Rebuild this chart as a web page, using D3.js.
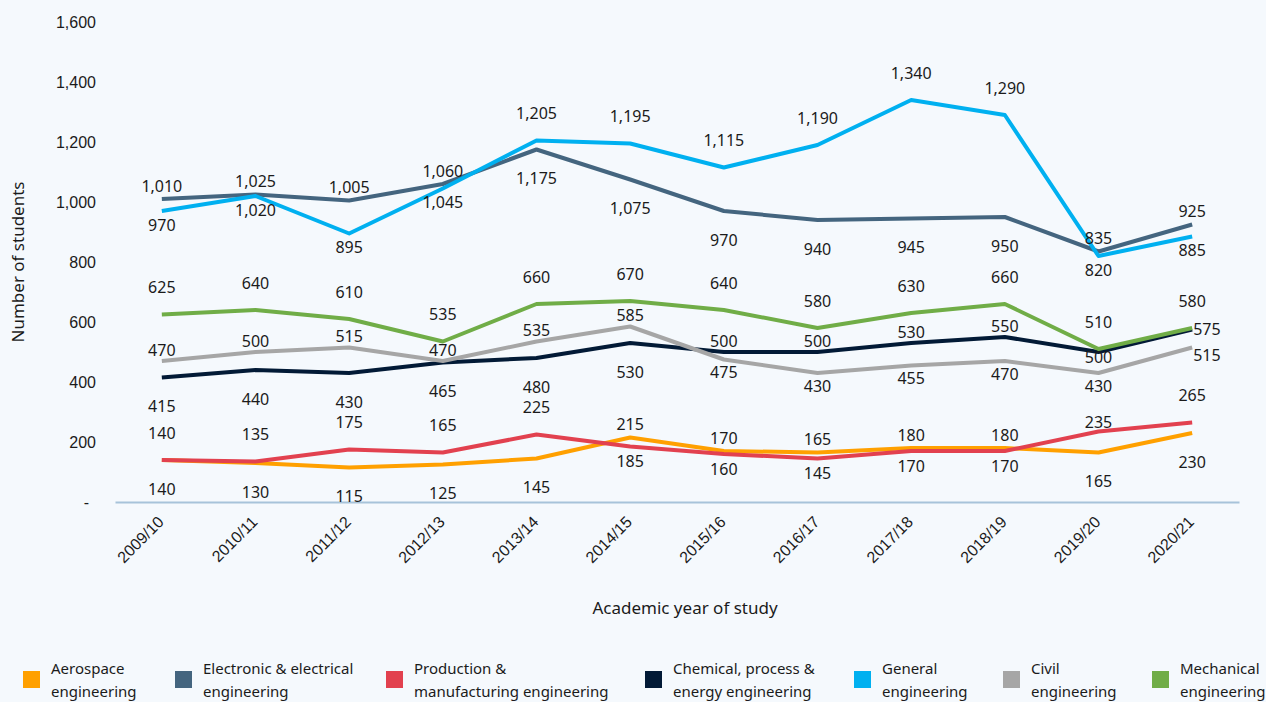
<!DOCTYPE html>
<html>
<head>
<meta charset="utf-8">
<script src="https://cdn.jsdelivr.net/npm/d3@7"></script>
<style>
  html, body { margin: 0; padding: 0; background: #f5f9fd; }
  svg { display: block; font-family: "Noto Sans", "DejaVu Sans", sans-serif; }
  text { fill: #1b1b1b; }
</style>
</head>
<body>
<svg id="chart" width="1266" height="702"></svg>
<script>
// Academic years on the x axis
const categories = ["2009/10", "2010/11", "2011/12", "2012/13", "2013/14", "2014/15",
                    "2015/16", "2016/17", "2017/18", "2018/19", "2019/20", "2020/21"];

// Number of students per subject area
const aerospace   = [140, 130, 115, 125, 145, 215, 170, 165, 180, 180, 165, 230];
const electronic  = [1010, 1025, 1005, 1060, 1175, 1075, 970, 940, 945, 950, 835, 925];
const production  = [140, 135, 175, 165, 225, 185, 160, 145, 170, 170, 235, 265];
const chemical    = [415, 440, 430, 465, 480, 530, 500, 500, 530, 550, 500, 575];
const general     = [970, 1020, 895, 1045, 1205, 1195, 1115, 1190, 1340, 1290, 820, 885];
const civil       = [470, 500, 515, 470, 535, 585, 475, 430, 455, 470, 430, 515];
const mechanical  = [625, 640, 610, 535, 660, 670, 640, 580, 630, 660, 510, 580];

// Y axis ticks
const yTicks = [0, 200, 400, 600, 800, 1000, 1200, 1400, 1600];

// Legend text (two lines each)
const seriesLabels = {
  aerospace:  ["Aerospace", "engineering"],
  electronic: ["Electronic & electrical", "engineering"],
  production: ["Production &", "manufacturing engineering"],
  chemical:   ["Chemical, process &", "energy engineering"],
  general:    ["General", "engineering"],
  civil:      ["Civil", "engineering"],
  mechanical: ["Mechanical", "engineering"]
};

const series = [
  { key: "aerospace",  values: aerospace },
  { key: "electronic", values: electronic },
  { key: "production", values: production },
  { key: "chemical",   values: chemical },
  { key: "general",    values: general },
  { key: "civil",      values: civil },
  { key: "mechanical", values: mechanical }
];

// Drawing styles
const colors = {
  aerospace: "#ffa000", electronic: "#44657f", production: "#e2414f",
  chemical: "#021a36", general: "#00b0f0", civil: "#a6a6a6", mechanical: "#70ad47"
};
// Gap between a point and its value label, above / below
const labelGap = {
  aerospace:  { above: 13, below: 29 },
  electronic: { above: 13, below: 29 },
  production: { above: 27, below: 15 },
  chemical:   { above: 11, below: 29 },
  general:    { above: 27, below: 14 },
  civil:      { above: 11, below: 13 },
  mechanical: { above: 27, below: 27 }
};
// Series that share a band: the first one's label goes above when it is not lower
const labelPairs = [["production", "aerospace"], ["electronic", "general"], ["civil", "chemical"]];
// Individual labels that are nudged off the default side to avoid collisions
const labelOverrides = {
  chemical: { 10: { side: "below", gap: 5 }, 11: { side: "right", dy: 0 } },
  civil:    { 11: { side: "right", dy: 8 } },
  production: { 10: { side: "above", gap: 9 } }
};

const svg = d3.select("#chart");
const plot = { left: 115, right: 1239, top: 22, bottom: 502 };

const x = d3.scaleBand().domain(categories).range([plot.left, plot.right]).padding(0);
const y = d3.scaleLinear().domain([0, 1600]).range([plot.bottom, plot.top]);
const cx = c => x(c) + x.bandwidth() / 2;

// Y axis (labels only)
const yAxis = svg.append("g")
  .attr("transform", `translate(${plot.left},0)`)
  .call(d3.axisLeft(y).tickValues(yTicks).tickSize(0).tickPadding(19)
    .tickFormat(d => d === 0 ? "-" : d3.format(",")(d)));
yAxis.select(".domain").remove();
yAxis.selectAll("text")
  .attr("font-size", 16).attr("fill", "#1b1b1b")
  .attr("dx", d => d === 0 ? -7 : 0);

// X axis with rotated year labels
const xAxis = svg.append("g")
  .attr("transform", `translate(0,${plot.bottom})`)
  .call(d3.axisBottom(x).tickSize(0).tickPadding(0));
xAxis.select(".domain").attr("stroke", "#a7c3da").attr("stroke-width", 2);
xAxis.selectAll("text")
  .attr("font-size", 16).attr("fill", "#1b1b1b")
  .attr("text-anchor", "end")
  .attr("x", 0).attr("y", 0).attr("dy", 0)
  .attr("transform", "translate(3,21) rotate(-45)");

// Axis titles
svg.append("text")
  .attr("x", (plot.left + plot.right) / 2 + 8).attr("y", 614)
  .attr("text-anchor", "middle").attr("font-size", 17)
  .text("Academic year of study");
svg.append("text")
  .attr("transform", "translate(24,262) rotate(-90)")
  .attr("text-anchor", "middle").attr("font-size", 17)
  .text("Number of students");

// Lines
const line = d3.line()
  .x((d, i) => cx(categories[i]))
  .y(d => y(d));

svg.append("g").selectAll("path")
  .data(series)
  .join("path")
  .attr("d", s => line(s.values))
  .attr("fill", "none")
  .attr("stroke", s => colors[s.key])
  .attr("stroke-width", 4)
  .attr("stroke-linejoin", "round")
  .attr("stroke-linecap", "butt");

// Decide which side of the point each value label sits on
function labelSide(key, i) {
  for (const [first, second] of labelPairs) {
    const a = series.find(s => s.key === first).values[i];
    const b = series.find(s => s.key === second).values[i];
    if (key === first) return a >= b ? "above" : "below";
    if (key === second) return a >= b ? "below" : "above";
  }
  return "above";
}

const labels = [];
series.forEach(s => {
  s.values.forEach((v, i) => {
    const ov = (labelOverrides[s.key] || {})[i];
    const side = ov ? ov.side : labelSide(s.key, i);
    const px = cx(categories[i]);
    const py = y(v);
    let lx = px, ly, anchor = "middle";
    if (side === "right") {
      lx = px + 1; anchor = "start"; ly = py + (ov.dy || 0);
    } else {
      const gap = ov && ov.gap != null ? ov.gap : labelGap[s.key][side];
      ly = side === "above" ? py - gap : py + gap;
    }
    labels.push({ text: d3.format(",")(v), x: lx, y: ly, anchor });
  });
});

svg.append("g").selectAll("text")
  .data(labels)
  .join("text")
  .attr("x", d => d.x)
  .attr("y", d => d.y)
  .attr("dy", "0.36em")
  .attr("text-anchor", d => d.anchor)
  .attr("font-size", 16)
  .text(d => d.text);

// Legend
const legendX = [23, 175, 386, 645, 854, 1003, 1152];
const legend = svg.append("g").selectAll("g")
  .data(series)
  .join("g")
  .attr("transform", (s, i) => `translate(${legendX[i]},0)`);
legend.append("rect")
  .attr("x", 0).attr("y", 671).attr("width", 17).attr("height", 17)
  .attr("fill", s => colors[s.key]);
legend.append("text")
  .attr("x", 28).attr("y", 674).attr("font-size", 15)
  .text(s => seriesLabels[s.key][0]);
legend.append("text")
  .attr("x", 28).attr("y", 697).attr("font-size", 15)
  .text(s => seriesLabels[s.key][1]);
</script>
</body>
</html>
